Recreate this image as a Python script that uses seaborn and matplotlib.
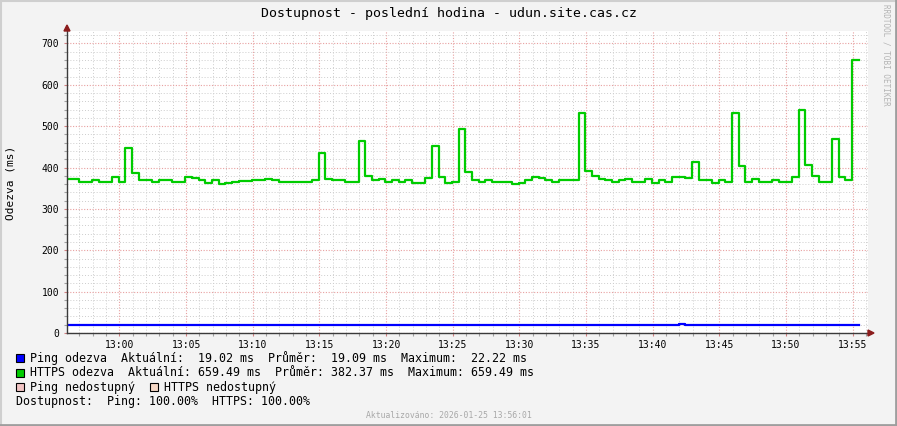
import matplotlib
matplotlib.use("Agg")
import matplotlib.pyplot as plt
import matplotlib.dates as mdates
from matplotlib.ticker import MultipleLocator
from matplotlib.patches import Rectangle, Polygon
from matplotlib.lines import Line2D
import pandas as pd
import seaborn as sns

# ---------------- data ----------------
start_time = "2026-01-25 12:55:57"
step = "30s"

https_ms = [
    373, 373, 366, 366, 370, 365, 365, 376, 366, 446,
    387, 369, 369, 364, 370, 369, 365, 366, 376, 374,
    370, 362, 369, 360, 362, 366, 368, 368, 370, 369,
    373, 369, 366, 364, 366, 366, 366, 370, 434, 373,
    369, 369, 364, 364, 463, 379, 369, 373, 364, 369,
    366, 369, 362, 362, 374, 451, 376, 362, 366, 493,
    388, 369, 366, 370, 366, 366, 364, 360, 362, 370,
    376, 374, 370, 366, 369, 369, 369, 532, 392, 379,
    373, 370, 366, 369, 373, 364, 366, 373, 362, 369,
    364, 376, 376, 374, 413, 370, 370, 362, 370, 364,
    532, 403, 366, 373, 364, 364, 370, 364, 366, 376,
    538, 405, 379, 364, 366, 468, 376, 369, 659.49,
]

ping_ms = [
    19.1, 19.1, 19.0, 19.1, 19.0, 19.1, 19.1, 19.0, 19.1, 19.1,
    19.0, 19.1, 19.1, 19.0, 19.1, 19.1, 19.0, 19.1, 19.0, 19.1,
    19.1, 19.0, 19.1, 19.1, 19.0, 19.1, 19.1, 19.0, 19.1, 19.0,
    19.1, 19.1, 19.0, 19.1, 19.1, 19.0, 19.1, 19.1, 19.0, 19.1,
    19.0, 19.1, 19.1, 19.0, 19.1, 19.1, 19.0, 19.1, 19.0, 19.1,
    19.1, 19.0, 19.1, 19.1, 19.0, 19.1, 19.1, 19.0, 19.1, 19.0,
    19.1, 19.1, 19.0, 19.1, 19.1, 19.0, 19.1, 19.1, 19.0, 19.1,
    19.0, 19.1, 19.1, 19.0, 19.1, 19.1, 19.0, 19.1, 19.0, 19.1,
    19.1, 19.0, 19.1, 19.1, 19.0, 19.1, 19.1, 19.0, 19.1, 19.0,
    19.1, 19.0, 22.22, 19.0, 19.1, 19.1, 19.0, 19.1, 19.0, 19.1,
    19.1, 19.0, 19.1, 19.1, 19.0, 19.1, 19.1, 19.0, 19.1, 19.0,
    19.1, 19.1, 19.0, 19.1, 19.1, 19.0, 19.1, 19.0, 19.02,
]

y_ticks = [0, 100, 200, 300, 400, 500, 600, 700]

title = "Dostupnost - poslední hodina - udun.site.cas.cz"
ylabel = "Odezva (ms)"
legend_lines = [
    ("Ping odezva  Aktuální:  19.02 ms  Průměr:  19.09 ms  Maximum:  22.22 ms", "#0000FF"),
    ("HTTPS odezva  Aktuální: 659.49 ms  Průměr: 382.37 ms  Maximum: 659.49 ms", "#00CC00"),
]
unavail_labels = [("Ping nedostupný", "#F2C4C4"), ("HTTPS nedostupný", "#F6D8C6")]
availability = "Dostupnost:  Ping: 100.00%  HTTPS: 100.00%"
footer = "Aktualizováno: 2026-01-25 13:56:01"
watermark = "RRDTOOL / TOBI OETIKER"

# ---------------- figure ----------------
W, H = 897, 426
MONO = "DejaVu Sans Mono"
plt.rcParams["font.family"] = [MONO, "DejaVu Sans"]

fig = plt.figure(figsize=(W / 100, H / 100), dpi=100)
fig.patch.set_facecolor("#F3F3F3")


def fx(x):
    return x / W


def fy(y):
    return 1 - y / H


ax = fig.add_axes([fx(67), fy(333), (868 - 67) / W, (333 - 31) / H])
ax.set_facecolor("white")

n = len(https_ms)
times = pd.date_range(start_time, periods=n + 1, freq=step)
df = pd.DataFrame({
    "time": times,
    "https": https_ms + [https_ms[-1]],
    "ping": ping_ms + [ping_ms[-1]],
})

sns.lineplot(data=df, x="time", y="https", ax=ax, color="#00CC00",
             linewidth=1.6, drawstyle="steps-post", estimator=None, zorder=3)
sns.lineplot(data=df, x="time", y="ping", ax=ax, color="#0000FF",
             linewidth=1.6, drawstyle="steps-post", estimator=None, zorder=3)

ax.set_xlabel("")
ax.set_ylabel("")
ax.set_xlim(pd.Timestamp("2026-01-25 12:56:04"), pd.Timestamp("2026-01-25 13:56:09"))
ax.set_ylim(0, 730)

ax.xaxis.set_major_locator(mdates.MinuteLocator(byminute=range(0, 60, 5)))
ax.xaxis.set_minor_locator(mdates.MinuteLocator())
ax.xaxis.set_major_formatter(mdates.DateFormatter("%H:%M"))
ax.set_yticks(y_ticks)
ax.yaxis.set_minor_locator(MultipleLocator(20))

ax.set_axisbelow(True)
ax.grid(which="minor", color="#CDCDCD", linestyle=(0, (1, 2)), linewidth=0.7)
ax.grid(which="major", color="#E8A0A0", linestyle=(0, (1, 1.5)), linewidth=0.8)

for s in ["top", "right"]:
    ax.spines[s].set_visible(False)
for s in ["left", "bottom"]:
    ax.spines[s].set_color("#3A3A3A")
    ax.spines[s].set_linewidth(1.0)
    ax.spines[s].set_zorder(4)

ax.tick_params(axis="both", which="both", length=2, color="#A0A0A0", width=0.8)
ax.tick_params(axis="x", which="major", labelsize=7, pad=3, colors="#000000")
ax.tick_params(axis="y", which="major", labelsize=7, pad=3.5, colors="#000000")
ax.tick_params(axis="both", which="major", color="#D08080")

# arrows at axis ends
fig.add_artist(Polygon([[fx(64), fy(31)], [fx(70), fy(31)], [fx(67), fy(25)]],
                       closed=True, color="#8B1C1C", transform=fig.transFigure))
fig.add_artist(Polygon([[fx(868), fy(330)], [fx(868), fy(336)], [fx(874), fy(333)]],
                       closed=True, color="#8B1C1C", transform=fig.transFigure))

# title & labels
fig.text(0.5, fy(14), title, ha="center", va="center", fontsize=9.5, family=MONO, color="#000000")
fig.text(fx(11), fy(183), ylabel, ha="center", va="center", rotation=90, fontsize=8, family=MONO)
fig.text(fx(886), fy(4), watermark, ha="center", va="top", rotation=270, fontsize=5.5,
         family=MONO, color="#B4B4B4")
fig.text(0.5, fy(415), footer, ha="center", va="center", fontsize=5.9, family=MONO, color="#A8A8A8")


def box(x, y, color):
    fig.add_artist(Rectangle((fx(x), fy(y + 4)), 8 / W, 8 / H, facecolor=color,
                             edgecolor="#000000", linewidth=0.8, transform=fig.transFigure))


LS = 8.4
for i, (txt, col) in enumerate(legend_lines):
    yc = 358 + i * 14.5
    box(16, yc, col)
    fig.text(fx(30), fy(yc), txt, ha="left", va="center", fontsize=LS, family=MONO)

yc = 387
box(16, yc, unavail_labels[0][1])
fig.text(fx(30), fy(yc), unavail_labels[0][0], ha="left", va="center", fontsize=LS, family=MONO)
box(150, yc, unavail_labels[1][1])
fig.text(fx(164), fy(yc), unavail_labels[1][0], ha="left", va="center", fontsize=LS, family=MONO)

fig.text(fx(16), fy(401), availability, ha="left", va="center", fontsize=LS, family=MONO)

# frame shading around the image
fig.add_artist(Line2D([0, 1], [fy(0.5), fy(0.5)], color="#CFCFCF", lw=1.5, transform=fig.transFigure))
fig.add_artist(Line2D([fx(0.5), fx(0.5)], [0, 1], color="#CFCFCF", lw=1.5, transform=fig.transFigure))
fig.add_artist(Line2D([0, 1], [fy(425), fy(425)], color="#9E9E9E", lw=2, transform=fig.transFigure))
fig.add_artist(Line2D([fx(896), fx(896)], [0, 1], color="#9E9E9E", lw=2, transform=fig.transFigure))

fig.savefig("out.png", dpi=100, facecolor=fig.get_facecolor())
